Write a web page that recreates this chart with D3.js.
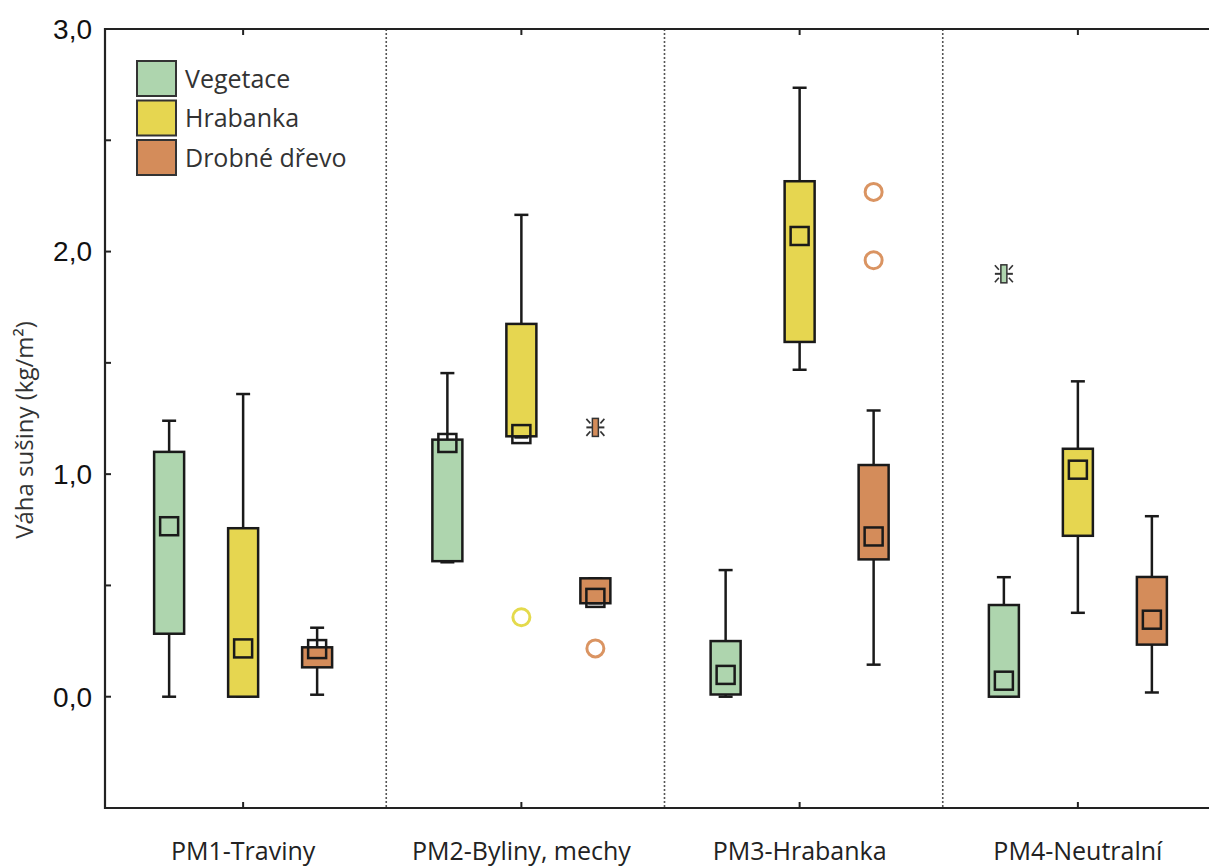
<!DOCTYPE html>
<html>
<head>
<meta charset="utf-8">
<script src="https://cdn.jsdelivr.net/npm/d3@7"></script>
<style>
  html, body { margin: 0; padding: 0; background: #fff; }
  svg { display: block; }
</style>
</head>
<body>
<svg id="chart" width="1209" height="867"></svg>
<script>
// ---- data ----
const categories = ["PM1-Traviny", "PM2-Byliny, mechy", "PM3-Hrabanka", "PM4-Neutralní"];
const series = ["Vegetace", "Hrabanka", "Drobné dřevo"];
const seriesColors = ["#aed5ae", "#e6d650", "#d48c5a"];
const outlierColors = ["#9cc89c", "#e4da4c", "#da9462"];

// per series, values across categories
const whiskerLow = [
  [0.00, 0.604, 0.00, 0.00],   // Vegetace
  [0.00, 1.165, 1.469, 0.377], // Hrabanka
  [0.009, 0.42, 0.144, 0.019]  // Drobné dřevo
];
const q1 = [
  [0.283, 0.609, 0.01, 0.00],
  [0.00, 1.17, 1.594, 0.723],
  [0.132, 0.42, 0.617, 0.234]
];
const median = [
  [0.766, 1.14, 0.098, 0.072],
  [0.217, 1.18, 2.07, 1.02],
  [0.214, 0.444, 0.72, 0.346]
];
const q3 = [
  [1.10, 1.155, 0.25, 0.412],
  [0.757, 1.675, 2.316, 1.114],
  [0.222, 0.532, 1.041, 0.538]
];
const whiskerHigh = [
  [1.24, 1.454, 0.569, 0.537],
  [1.36, 2.165, 2.736, 1.417],
  [0.31, 0.532, 1.286, 0.811]
];
// outliers (circles) and extremes (asterisks): [categoryIndex, seriesIndex, value]
const outliers = [
  [1, 1, 0.357],
  [1, 2, 0.217],
  [2, 2, 2.268],
  [2, 2, 1.961]
];
const extremes = [
  [1, 2, 1.21],
  [3, 0, 1.90]
];
const yTickValues = [0, 1, 2, 3];
const yMinorTicks = [-0.5, 0, 0.5, 1, 1.5, 2, 2.5, 3];
const yTitle = "Váha sušiny (kg/m²)";

// ---- layout ----
const svg = d3.select("#chart");
const pLeft = 105, pTop = 29, pBottom = 808, pRight = 1217;

const y = d3.scaleLinear().domain([-0.5, 3.0]).range([pBottom, pTop]);
const x = d3.scaleBand().domain(categories).range([pLeft - 1, pRight]).padding(0);
const xs = d3.scaleBand().domain(series).range([-111, 111]).padding(0);

const boxW = 30, capW = 14, medS = 18;
const ink = "#1a1a1a";

// separators (dotted)
svg.append("g").selectAll("line")
  .data(categories.slice(0, -1))
  .join("line")
  .attr("x1", d => x(d) + x.bandwidth() + 4)
  .attr("x2", d => x(d) + x.bandwidth() + 4)
  .attr("y1", pTop).attr("y2", pBottom)
  .attr("stroke", "#555").attr("stroke-width", 1.6)
  .attr("stroke-dasharray", "2,2");

// boxes
const boxData = [];
series.forEach((s, si) => {
  categories.forEach((c, ci) => {
    boxData.push({
      s, si, c, ci,
      lo: whiskerLow[si][ci], q1: q1[si][ci], med: median[si][ci],
      q3: q3[si][ci], hi: whiskerHigh[si][ci]
    });
  });
});
const cx = d => x(d.c) + x.bandwidth() / 2 + xs(d.s) + xs.bandwidth() / 2;

const gBox = svg.append("g").selectAll("g").data(boxData).join("g");
// whisker lines
gBox.append("line")
  .attr("x1", cx).attr("x2", cx)
  .attr("y1", d => y(d.hi)).attr("y2", d => y(d.lo))
  .attr("stroke", ink).attr("stroke-width", 2.5);
// caps
gBox.append("line")
  .attr("x1", d => cx(d) - capW / 2).attr("x2", d => cx(d) + capW / 2)
  .attr("y1", d => y(d.hi)).attr("y2", d => y(d.hi))
  .attr("stroke", ink).attr("stroke-width", 2.5);
gBox.append("line")
  .attr("x1", d => cx(d) - capW / 2).attr("x2", d => cx(d) + capW / 2)
  .attr("y1", d => y(d.lo)).attr("y2", d => y(d.lo))
  .attr("stroke", ink).attr("stroke-width", 2.5);
// box
gBox.append("rect")
  .attr("x", d => cx(d) - boxW / 2)
  .attr("y", d => y(d.q3))
  .attr("width", boxW)
  .attr("height", d => Math.max(1, y(d.q1) - y(d.q3)))
  .attr("fill", d => seriesColors[d.si])
  .attr("stroke", ink).attr("stroke-width", 2.5);
// median square
gBox.append("rect")
  .attr("x", d => cx(d) - medS / 2)
  .attr("y", d => y(d.med) - medS / 2)
  .attr("width", medS).attr("height", medS)
  .attr("fill", "none")
  .attr("stroke", ink).attr("stroke-width", 2.5);

// outlier circles
const ocx = d => x(categories[d[0]]) + x.bandwidth() / 2 + xs(series[d[1]]) + xs.bandwidth() / 2;
svg.append("g").selectAll("circle").data(outliers).join("circle")
  .attr("cx", ocx).attr("cy", d => y(d[2]))
  .attr("r", 8.5)
  .attr("fill", "none")
  .attr("stroke", d => outlierColors[d[1]])
  .attr("stroke-width", 3);

// extremes (asterisk-like)
const gEx = svg.append("g").selectAll("g").data(extremes).join("g")
  .attr("transform", d => `translate(${ocx(d)},${y(d[2])})`);
gEx.append("line").attr("x1", -9).attr("x2", 9).attr("y1", 0).attr("y2", 0)
  .attr("stroke", "#333").attr("stroke-width", 2);
gEx.append("rect").attr("x", -3).attr("y", -9).attr("width", 6).attr("height", 18)
  .attr("fill", d => seriesColors[d[1]]).attr("stroke", "#333").attr("stroke-width", 1.5);
[[-1, -1], [1, -1], [-1, 1], [1, 1]].forEach(([sx, sy]) => {
  gEx.append("line")
    .attr("x1", sx * 5).attr("y1", sy * 4)
    .attr("x2", sx * 9).attr("y2", sy * 8.5)
    .attr("stroke", "#333").attr("stroke-width", 1.6);
});

// axes frame
const axG = svg.append("g");
axG.append("line").attr("x1", pLeft).attr("x2", pLeft).attr("y1", pTop - 1).attr("y2", pBottom + 1)
  .attr("stroke", "#222").attr("stroke-width", 2.2);
axG.append("line").attr("x1", pLeft).attr("x2", pRight).attr("y1", pTop).attr("y2", pTop)
  .attr("stroke", "#222").attr("stroke-width", 2.2);
axG.append("line").attr("x1", pLeft).attr("x2", pRight).attr("y1", pBottom).attr("y2", pBottom)
  .attr("stroke", "#222").attr("stroke-width", 2.2);

// left inward ticks
axG.selectAll(".ytick").data(yMinorTicks).join("line")
  .attr("x1", pLeft).attr("x2", pLeft + 6)
  .attr("y1", d => y(d)).attr("y2", d => y(d))
  .attr("stroke", "#222").attr("stroke-width", 2);
// top & bottom category ticks
axG.selectAll(".xt").data(categories).join("line")
  .attr("x1", d => x(d) + x.bandwidth() / 2).attr("x2", d => x(d) + x.bandwidth() / 2)
  .attr("y1", pTop).attr("y2", pTop + 6)
  .attr("stroke", "#222").attr("stroke-width", 2);
axG.selectAll(".xb").data(categories).join("line")
  .attr("x1", d => x(d) + x.bandwidth() / 2).attr("x2", d => x(d) + x.bandwidth() / 2)
  .attr("y1", pBottom).attr("y2", pBottom - 6)
  .attr("stroke", "#222").attr("stroke-width", 2);

// y tick labels
const fmt = v => d3.format(".1f")(v).replace(".", ",");
svg.append("g").selectAll("text").data(yTickValues).join("text")
  .attr("x", 92).attr("y", d => y(d))
  .attr("dy", "0.35em")
  .attr("text-anchor", "end")
  .attr("font-family", "'Liberation Sans', Arial, sans-serif")
  .attr("font-size", 28)
  .attr("fill", "#111")
  .text(fmt);

// x category labels
svg.append("g").selectAll("text").data(categories).join("text")
  .attr("x", d => x(d) + x.bandwidth() / 2)
  .attr("y", 860)
  .attr("text-anchor", "middle")
  .attr("font-family", "'Open Sans', sans-serif")
  .attr("font-size", 25)
  .attr("fill", "#222")
  .text(d => d);

// y title
svg.append("text")
  .attr("transform", "translate(33,430) rotate(-90)")
  .attr("text-anchor", "middle")
  .attr("font-family", "'Open Sans', sans-serif")
  .attr("font-size", 24)
  .attr("fill", "#333")
  .text(yTitle);

// legend
const lg = svg.append("g").attr("transform", "translate(137,61)");
const li = lg.selectAll("g").data(series).join("g")
  .attr("transform", (d, i) => `translate(0,${i * 39.5})`);
li.append("rect").attr("width", 39).attr("height", 35)
  .attr("fill", (d, i) => seriesColors[i])
  .attr("stroke", "#333").attr("stroke-width", 2);
li.append("text").attr("x", 48).attr("y", 18).attr("dy", "0.35em")
  .attr("font-family", "'Open Sans', sans-serif")
  .attr("font-size", 25)
  .attr("fill", "#333")
  .text(d => d);
</script>
</body>
</html>
